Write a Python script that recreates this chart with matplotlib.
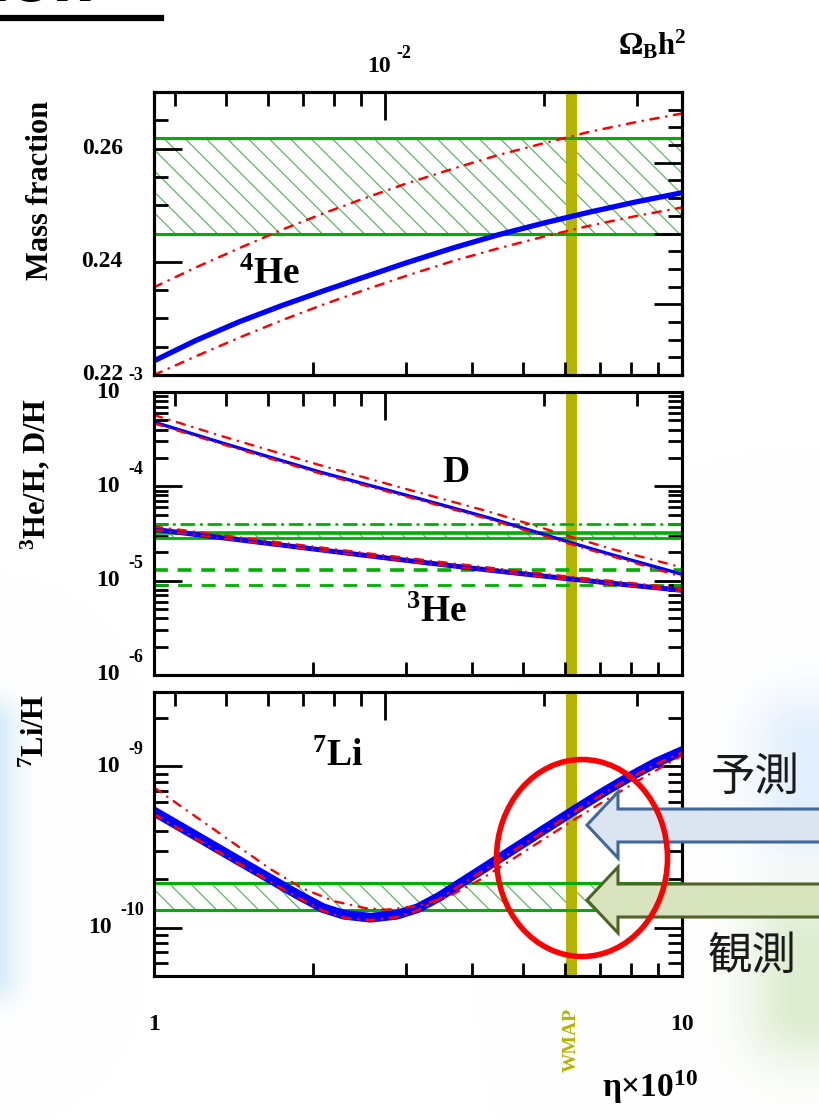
import numpy as np
import matplotlib
matplotlib.use("Agg")
import matplotlib.pyplot as plt
from matplotlib.patches import Ellipse, Polygon
from matplotlib.collections import LineCollection
from matplotlib.ticker import MultipleLocator, FixedLocator, NullFormatter, LogLocator
from matplotlib.transforms import IdentityTransform, ScaledTranslation, blended_transform_factory

# ---------------------------------------------------------------- data
# baryon-to-photon ratio (eta x 1e10) and Omega_B h^2 conversion
omega_per_eta = 0.00365
wmap_range = (6.02, 6.32)

# 4He mass fraction
eta_he4 = [1.0, 1.2, 1.45, 1.75, 2.1, 2.5, 3.0, 3.7, 4.5, 5.5, 6.7, 8.2, 10.0]
he4_central = [0.2225, 0.2261, 0.2294, 0.2323, 0.2349, 0.2373, 0.2398, 0.2425, 0.2448,
               0.2469, 0.2488, 0.2506, 0.2522]
he4_var_hi = [0.2355, 0.2390, 0.2424, 0.2457, 0.2486, 0.2512, 0.2538, 0.2565, 0.2589,
              0.2610, 0.2630, 0.2647, 0.2662]
he4_var_lo = [0.2200, 0.2233, 0.2266, 0.2297, 0.2325, 0.2350, 0.2375, 0.2402, 0.2424,
              0.2445, 0.2464, 0.2481, 0.2496]
he4_obs = (0.2450, 0.2618)

# D/H
eta_d = [1.0, 1.345, 2.06, 3.15, 4.33, 6.06, 7.4, 10.0]
d_central = [4.8e-4, 2.89e-4, 1.42e-4, 7.5e-5, 4.6e-5, 2.6e-5, 1.87e-5, 1.17e-5]
d_var_lo = [4.65e-4, 2.8e-4, 1.37e-4, 7.25e-5, 4.45e-5, 2.5e-5, 1.8e-5, 1.1e-5]
d_var_hi = [5.7e-4, 3.4e-4, 1.68e-4, 8.7e-5, 5.35e-5, 3.0e-5, 2.15e-5, 1.38e-5]
d_obs = (2.8e-5, 3.18e-5)
d_upper = 4.0e-5

# 3He/H
eta_he3 = [1.0, 1.658, 2.54, 3.15, 4.33, 6.06, 8.08, 10.0]
he3_central = [3.5e-5, 2.47e-5, 1.84e-5, 1.59e-5, 1.29e-5, 1.05e-5, 8.9e-6, 7.9e-6]
he3_var_hi = [3.75e-5, 2.62e-5, 1.95e-5, 1.69e-5, 1.37e-5, 1.11e-5, 9.4e-6, 8.3e-6]
he3_var_lo = [3.45e-5, 2.43e-5, 1.81e-5, 1.56e-5, 1.27e-5, 1.03e-5, 8.7e-6, 7.7e-6]
he3_bounds = (9.1e-6, 1.29e-5)

# 7Li/H
eta_li = [1.0, 1.122, 1.259, 1.413, 1.585, 1.778, 1.905, 2.089, 2.291, 2.570, 2.884, 3.162,
          3.467, 3.802, 4.169, 4.571, 5.012, 5.623, 6.310, 7.079, 7.943, 8.913, 10.0]
li_central = [5.25e-10, 4.22e-10, 3.39e-10, 2.72e-10, 2.19e-10, 1.76e-10, 1.55e-10, 1.32e-10,
              1.20e-10, 1.15e-10, 1.20e-10, 1.32e-10, 1.55e-10, 1.88e-10, 2.28e-10, 2.77e-10,
              3.36e-10, 4.28e-10, 5.45e-10, 6.89e-10, 8.59e-10, 1.054e-9, 1.245e-9]
li_var_lo = [5.05e-10, 4.05e-10, 3.25e-10, 2.61e-10, 2.10e-10, 1.69e-10, 1.49e-10, 1.27e-10,
             1.15e-10, 1.11e-10, 1.16e-10, 1.28e-10, 1.50e-10, 1.83e-10, 2.22e-10, 2.70e-10,
             3.28e-10, 4.18e-10, 5.33e-10, 6.74e-10, 8.40e-10, 1.03e-9, 1.22e-9]
eta_li_hi = [1.0, 1.122, 1.259, 1.413, 1.660, 1.905, 2.188, 2.512, 2.754, 3.162, 3.631, 4.169,
             5.012, 6.026, 7.079, 8.318, 10.0]
li_var_hi = [7.41e-10, 5.69e-10, 4.37e-10, 3.35e-10, 2.31e-10, 1.76e-10, 1.46e-10, 1.32e-10,
             1.29e-10, 1.36e-10, 1.57e-10, 2.0e-10, 2.94e-10, 4.33e-10, 6.02e-10, 8.27e-10, 1.17e-9]
li_obs = (1.28e-10, 1.9e-10)

# ---------------------------------------------------------------- style
plt.rcParams["font.family"] = ["Liberation Serif", "DejaVu Serif"]
plt.rcParams["font.weight"] = "bold"
plt.rcParams["mathtext.fontset"] = "custom"
plt.rcParams["mathtext.rm"] = "Liberation Serif:bold"
plt.rcParams["mathtext.it"] = "Liberation Serif:italic:bold"
plt.rcParams["mathtext.bf"] = "Liberation Serif:bold"
plt.rcParams["lines.scale_dashes"] = False

BLUE = "#0000ff"
RED = "#ff0000"
GREEN = "#00b000"
HATCH = "#4db34d"
OLIVE = "#b4b400"
DASHDOT = (0, (6, 5.5, 0.2, 5.5))

W, H = 819, 1119
fig = plt.figure(figsize=(W / 100, H / 100), dpi=100)


def fpos(x, y):
    return (x / W, 1 - y / H)


# soft glows in the slide background
yy, xx = np.mgrid[0:H, 0:W].astype(float)


def glow(x0, x1, y0, y1, r):
    dx = np.maximum(np.maximum(x0 - xx, xx - x1), 0)
    dy = np.maximum(np.maximum(y0 - yy, yy - y1), 0)
    return np.exp(-((dx ** 2 + dy ** 2) / r ** 2))


bg_img = np.ones((H, W, 3))
for (box, r, col) in [((-100, -8, 725, 975), 26, (0.83, 0.92, 0.97)),
                      ((800, 900, 740, 810), 50, (0.89, 0.94, 0.99)),
                      ((800, 900, 945, 1010), 55, (0.87, 0.93, 0.82))]:
    a = glow(*box, r)[..., None]
    bg_img -= a * (1 - np.array(col))
bg = fig.add_axes([0, 0, 1, 1], zorder=-10)
bg.imshow(np.clip(bg_img, 0, 1), extent=(0, W, H, 0), aspect="auto")
bg.axis("off")


def add_panel(top, bottom):
    return fig.add_axes([154 / W, 1 - bottom / H, 528 / W, (bottom - top) / H])


ax1 = add_panel(92, 375)
ax2 = add_panel(392, 675)
ax3 = add_panel(692, 976)


def hatch_band(ax, lo, hi, spacing=21, color=HATCH, lw=0.8):
    x0, ylo = ax.transData.transform((ax.get_xlim()[0], lo))
    x1, yhi = ax.transData.transform((ax.get_xlim()[1], hi))
    h = yhi - ylo
    starts = np.arange(x0 - h, x1 + spacing, spacing)
    segs = [[(s, yhi), (s + h, ylo)] for s in starts]
    lc = LineCollection(segs, colors=color, linewidths=lw, transform=IdentityTransform(), zorder=1)
    ax.add_collection(lc, autolim=False)
    lc.set_clip_path(ax.patch)


def red_curve(ax, x, y, lw=1.8):
    ax.plot(x, y, color=RED, lw=lw, ls=DASHDOT, dash_capstyle="round", zorder=5)


for ax in (ax1, ax2, ax3):
    ax.set_xscale("log")
    ax.set_xlim(1, 10)
    for sp in ax.spines.values():
        sp.set_linewidth(2.2)
    ax.xaxis.set_major_locator(FixedLocator([1, 10]))
    ax.xaxis.set_minor_locator(LogLocator(base=10, subs=np.arange(2, 10)))
    ax.xaxis.set_minor_formatter(NullFormatter())
    ax.tick_params(axis="x", which="major", length=0, labelbottom=False)
    ax.tick_params(axis="x", which="minor", direction="in", length=9.5, width=2, top=False)
    ax.tick_params(axis="y", which="major", direction="in", length=20, width=2, labelleft=False)
    ax.tick_params(axis="y", which="minor", direction="in", length=10, width=2)
    ax.axvspan(*wmap_range, color=OLIVE, lw=0, zorder=1.5)
    # Omega_B h^2 scale along the top edge
    axt = ax.twiny()
    axt.set_xscale("log")
    axt.set_xlim(1 * omega_per_eta, 10 * omega_per_eta)
    axt.xaxis.set_major_locator(FixedLocator([1e-2]))
    axt.xaxis.set_minor_locator(FixedLocator([4e-3, 5e-3, 6e-3, 7e-3, 8e-3, 9e-3, 2e-2, 3e-2]))
    axt.xaxis.set_minor_formatter(NullFormatter())
    axt.tick_params(axis="x", which="major", direction="in", length=20, width=2, labeltop=False)
    axt.tick_params(axis="x", which="minor", direction="in", length=10, width=2)
    for sp in axt.spines.values():
        sp.set_linewidth(2.2)

# ---------------------------------------------------------------- 4He panel
ax1.set_ylim(0.22, 0.27)
ax1.yaxis.set_major_locator(MultipleLocator(0.02))
ax1.yaxis.set_minor_locator(MultipleLocator(0.005))
ax1.tick_params(axis="y", which="both", right=False)
ax1r = ax1.twinx()
ax1r.set_ylim(0.22, 0.27)
ax1r.yaxis.set_major_locator(FixedLocator([0.2325, 0.245, 0.2575]))
ax1r.yaxis.set_minor_locator(FixedLocator(np.arange(0.223125, 0.2675, 0.003125)))
ax1r.tick_params(axis="y", which="major", direction="in", length=20, width=2, labelright=False)
ax1r.tick_params(axis="y", which="minor", direction="in", length=10, width=2)
ax1r.yaxis.set_minor_formatter(NullFormatter())
for sp in ax1r.spines.values():
    sp.set_linewidth(2.2)

hatch_band(ax1, *he4_obs)
for v in he4_obs:
    ax1.axhline(v, color=GREEN, lw=2.2, zorder=2)
ax1.plot(eta_he4, he4_central, color=BLUE, lw=3.8, zorder=4, solid_capstyle="butt")
red_curve(ax1, eta_he4, he4_var_hi)
red_curve(ax1, eta_he4, he4_var_lo)

# ---------------------------------------------------------------- D and 3He panel
ax2.set_yscale("log")
ax2.set_ylim(1e-6, 1e-3)
ax2.yaxis.set_minor_formatter(NullFormatter())
ax2.tick_params(axis="y", which="both", right=True)

hatch_band(ax2, *d_obs)
ax2.axhline(d_obs[1], color=GREEN, lw=2.6, zorder=2)
ax2.axhline(d_obs[0], color=GREEN, lw=2.0, zorder=2)
ax2.axhline(d_upper, color=GREEN, lw=2.0, ls=(0, (9, 5, 0.5, 5)), dash_capstyle="round", zorder=2)
ax2.axhline(he3_bounds[1], color=GREEN, lw=2.6, ls=(0, (10, 7)), zorder=2)
ax2.axhline(he3_bounds[0], color=GREEN, lw=2.0, ls=(0, (10, 7)), zorder=2)

ax2.plot(eta_d, d_central, color=BLUE, lw=2.4, zorder=4)
red_curve(ax2, eta_d, d_var_lo, lw=1.7)
red_curve(ax2, eta_d, d_var_hi, lw=1.7)
ax2.plot(eta_he3, he3_central, color=BLUE, lw=3.6, zorder=4)
red_curve(ax2, eta_he3, he3_var_hi, lw=1.7)
red_curve(ax2, eta_he3, he3_var_lo, lw=1.5)

# ---------------------------------------------------------------- 7Li panel
ax3.set_yscale("log")
ax3.set_ylim(5e-11, 2.9e-9)
ax3.yaxis.set_minor_formatter(NullFormatter())
ax3.tick_params(axis="y", which="both", right=True)

hatch_band(ax3, *li_obs)
for v in li_obs:
    ax3.axhline(v, color=GREEN, lw=2.2, zorder=2)
ax3.plot(eta_li, li_central, color=BLUE, lw=7, zorder=4)
red_curve(ax3, eta_li, li_var_lo, lw=2.0)
red_curve(ax3, eta_li_hi, li_var_hi, lw=1.7)

# ---------------------------------------------------------------- tick labels
TICK_FS = 17
EXP_FS = 13


def ylab_lin(ax, val, text):
    tr = blended_transform_factory(ax.transAxes, ax.transData)
    ax.text(-0.059, val, text, transform=tr, ha="right", va="center", fontsize=TICK_FS,
            fontweight="bold", clip_on=False)


def ylab_pow(ax, val, exp, base_x=-0.0644, exp_x=-0.0492):
    tr = blended_transform_factory(ax.transAxes, ax.transData)
    ax.text(base_x, val, "10", transform=tr, ha="right", va="center", fontsize=TICK_FS,
            fontweight="bold", clip_on=False)
    up = tr + ScaledTranslation(0, 0.17, fig.dpi_scale_trans)
    ax.text(exp_x, val, exp, transform=up, ha="left", va="center", fontsize=EXP_FS,
            fontweight="bold", clip_on=False)


for v, t in [(0.22, "0.22"), (0.24, "0.24"), (0.26, "0.26")]:
    ylab_lin(ax1, v, t)
for v, t in [(1e-3, "-3"), (1e-4, "-4"), (1e-5, "-5"), (1e-6, "-6")]:
    ylab_pow(ax2, v, t)
ylab_pow(ax3, 1e-9, "-9")
ylab_pow(ax3, 1e-10, "-10", base_x=-0.0795, exp_x=-0.0644)

tr3 = blended_transform_factory(ax3.transData, ax3.transAxes)
ax3.text(1, -0.17, "1", transform=tr3, ha="center", va="center", fontsize=TICK_FS, clip_on=False)
ax3.text(10, -0.17, "10", transform=tr3, ha="center", va="center", fontsize=TICK_FS, clip_on=False)
ax3.text(np.sqrt(wmap_range[0] * wmap_range[1]), -0.227, "WMAP", transform=tr3, rotation=90,
         ha="center", va="center", fontsize=14, color=OLIVE, clip_on=False)

# top scale labels
fig.text(*fpos(379, 66), "10", ha="center", va="center", fontsize=TICK_FS)
fig.text(*fpos(404, 53), "-2", ha="center", va="center", fontsize=EXP_FS)
fig.text(*fpos(652, 45), r"$\Omega_{\mathrm{B}}\mathrm{h}^{2}$", ha="center", va="center", fontsize=22)
fig.text(*fpos(650, 1087), "η×10$^{10}$", ha="center", va="center", fontsize=24)

# axis titles
fig.text(*fpos(41, 190), "Mass fraction", rotation=90, ha="center", va="center", fontsize=22)
fig.text(*fpos(36, 474), "$^{3}$He/H, D/H", rotation=90, ha="center", va="center", fontsize=22)
fig.text(*fpos(36, 731), "$^{7}$Li/H", rotation=90, ha="center", va="center", fontsize=22)

# species labels
fig.text(*fpos(270, 275), "$^{4}$He", ha="center", va="center", fontsize=27)
fig.text(*fpos(456, 472), "D", ha="center", va="center", fontsize=27)
fig.text(*fpos(437, 612), "$^{3}$He", ha="center", va="center", fontsize=27)
fig.text(*fpos(338, 756), "$^{7}$Li", ha="center", va="center", fontsize=27)

# slide title fragment
fig.text(-0.012, 1 - 1 / H, "ion", ha="left", va="baseline", fontsize=44,
         family="DejaVu Sans", fontweight="bold")
fig.add_artist(plt.Line2D([0, 161 / W], [1 - 18 / H, 1 - 18 / H], color="black", lw=4.5,
                          transform=fig.transFigure))

# ---------------------------------------------------------------- callouts
def arrow_poly(tip_x, tip_y, face, edge):
    pts = [(tip_x, tip_y), (618, tip_y - 33), (618, tip_y - 16), (830, tip_y - 16),
           (830, tip_y + 17), (618, tip_y + 17), (618, tip_y + 33)]
    poly = Polygon([fpos(x, y) for x, y in pts], closed=True, transform=fig.transFigure,
                   facecolor=face, edgecolor=edge, lw=2.2, zorder=6)
    fig.add_artist(poly)


arrow_poly(587, 825, "#dbe5f1", "#41689a")
arrow_poly(587, 900, "#d7e4bd", "#4f6228")

fig.add_artist(Ellipse(fpos(582, 858), 171 / W, 197 / H, transform=fig.transFigure,
                       fill=False, edgecolor=RED, lw=4.0, zorder=7))

cjk = ["Noto Sans CJK JP", "DejaVu Sans"]
fig.text(*fpos(755, 777), "予測", ha="center", va="center", fontsize=32, family=cjk,
         fontweight="normal", color="#1a1a1a", zorder=8)
fig.text(*fpos(752, 956), "観測", ha="center", va="center", fontsize=32, family=cjk,
         fontweight="normal", color="#1a1a1a", zorder=8)

fig.savefig("out.png", dpi=100)
